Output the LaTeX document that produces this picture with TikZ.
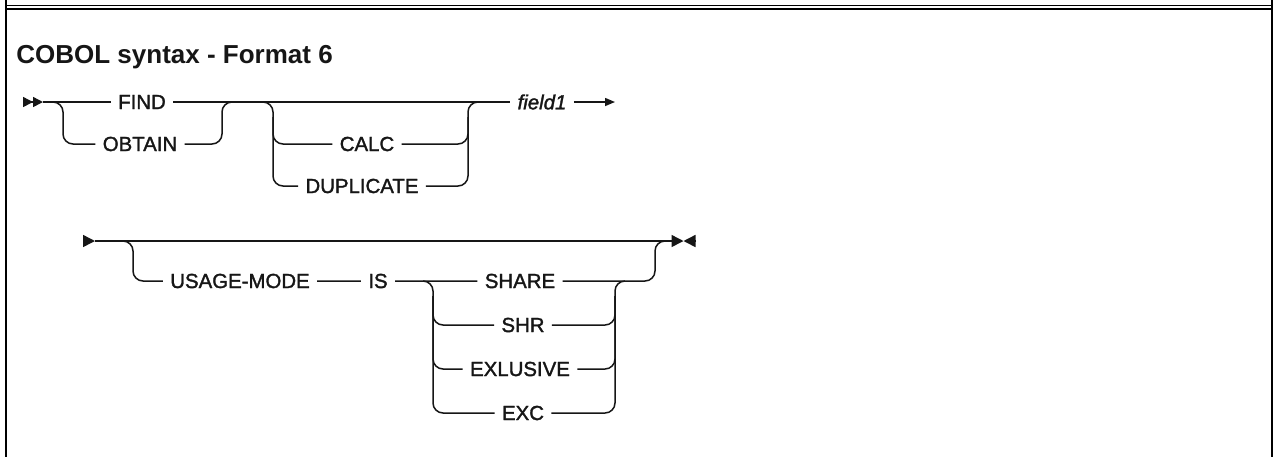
\documentclass[tikz,border=0pt]{standalone}
\usepackage{fontspec}
\setmainfont{Liberation Sans}
\newfontfamily\railfont{Liberation Sans}[FakeBold=1.6]
\usepackage{xcolor}
\usetikzlibrary{arrows.meta,calc}
\definecolor{ink}{HTML}{161616}
\tikzset{
  kw/.style={font=\railfont\fontsize{10.2}{12}\selectfont,text=ink,inner sep=3.5pt},
  var/.style={kw,font=\railfont\fontsize{10.2}{12}\selectfont\itshape},
  hdr/.style={font=\fontsize{13}{15}\selectfont\bfseries,text=ink,inner sep=0pt,anchor=base west},
  rail/.style={draw=ink,line width=0.75pt,rounded corners=5pt},
  rim/.style={draw=black,line width=#1},
  rim/.default=1pt,
}

\begin{document}
\begin{tikzpicture}[x=0.5pt,y=-0.5pt]
  \useasboundingbox (0,0) rectangle (1273,457);
  % frame of the box
  \draw[rim] (5.5,0) -- (5.5,457);
  \draw[rim] (1271.5,0) -- (1271.5,457);
  \draw[rim=0.75pt] (5.5,5.5) -- (1271.5,5.5);
  \draw[rim=0.9pt] (5.5,9.2) -- (1271.5,9.2);
  \node[hdr] (title) at (16,63) {COBOL syntax - Format 6};

  % first line
  \coordinate (s1) at (23,102);  \coordinate (s1tip) at (43,102);
  \coordinate (g1in) at (53,102);  \coordinate (g1l) at (63,102);
  \coordinate (g1r) at (222,102);  \coordinate (g1out) at (232,102);
  \coordinate (g2in) at (263,102); \coordinate (g2l) at (273,102);
  \coordinate (g2r) at (468,102);  \coordinate (g2out) at (478,102);
  \coordinate (e1) at (615,102);
  \node[kw] (find) at (142,102) {FIND};
  \node[kw] (obtain) at (140,144) {OBTAIN};
  \node[kw] (calc) at (367,144) {CALC};
  \node[kw] (dup) at (362,186) {DUPLICATE};
  \node[var] (field1) at (542,102) {field1};
  \draw[rail,-{Triangle[length=5pt,width=5pt]Triangle[length=5pt,width=5pt]}] (s1) -- (s1tip);
  \draw[rail] (s1tip) -- (find) -- (field1);
  \draw[rail,-{Triangle[length=5pt,width=4pt]}] (field1) -- (e1);
  \draw[rail] (g1in) -- (g1l) |- (obtain);
  \draw[rail] (obtain) -| (g1r) -- (g1out);
  \draw[rail] (g2in) -- (g2l) |- (dup);
  \draw[rail] (dup) -| (g2r) -- (g2out);
  \draw[rail] ($(g2l)+(0,15)$) |- (calc);
  \draw[rail] (calc) -| ($(g2r)+(0,15)$);

  % second line
  \coordinate (s2) at (83,241);    \coordinate (s2tip) at (95,241);
  \coordinate (o2in) at (123,241); \coordinate (o2l) at (133,241);
  \coordinate (o2r) at (655,241);  \coordinate (o2out) at (665,241);
  \coordinate (i2in) at (423,281); \coordinate (i2l) at (433,281);
  \coordinate (i2r) at (615,281);  \coordinate (i2out) at (625,281);
  \coordinate (e2mid) at (683.5,241); \coordinate (e2) at (696,241);
  \node[kw] (usage) at (240,281) {USAGE-MODE};
  \node[kw] (is) at (378,281) {IS};
  \node[kw] (share) at (520,281) {SHARE};
  \node[kw] (shr) at (523,325) {SHR};
  \node[kw] (exl) at (520,369) {EXLUSIVE};
  \node[kw] (exc) at (523,413) {EXC};
  \draw[rail,-{Triangle[length=6pt,width=6pt]}] (s2) -- (s2tip);
  \draw[rail,-{Triangle[length=6pt,width=6pt]}] (s2tip) -- (e2mid);
  \draw[rail,-{Triangle[length=6pt,width=6pt]}] (e2) -- (e2mid);
  \draw[rail] (o2in) -- (o2l) |- (usage);
  \draw[rail] (usage) -- (is) -- (share) -| (o2r) -- (o2out);
  \draw[rail] (i2in) -- (i2l) |- (exc);
  \draw[rail] (exc) -| (i2r) -- (i2out);
  \foreach \opt in {shr,exl} {
    \draw[rail] ($(i2l)+(0,15)$) |- (\opt);
    \draw[rail] (\opt) -| ($(i2r)+(0,15)$);
  }
\end{tikzpicture}
\end{document}
